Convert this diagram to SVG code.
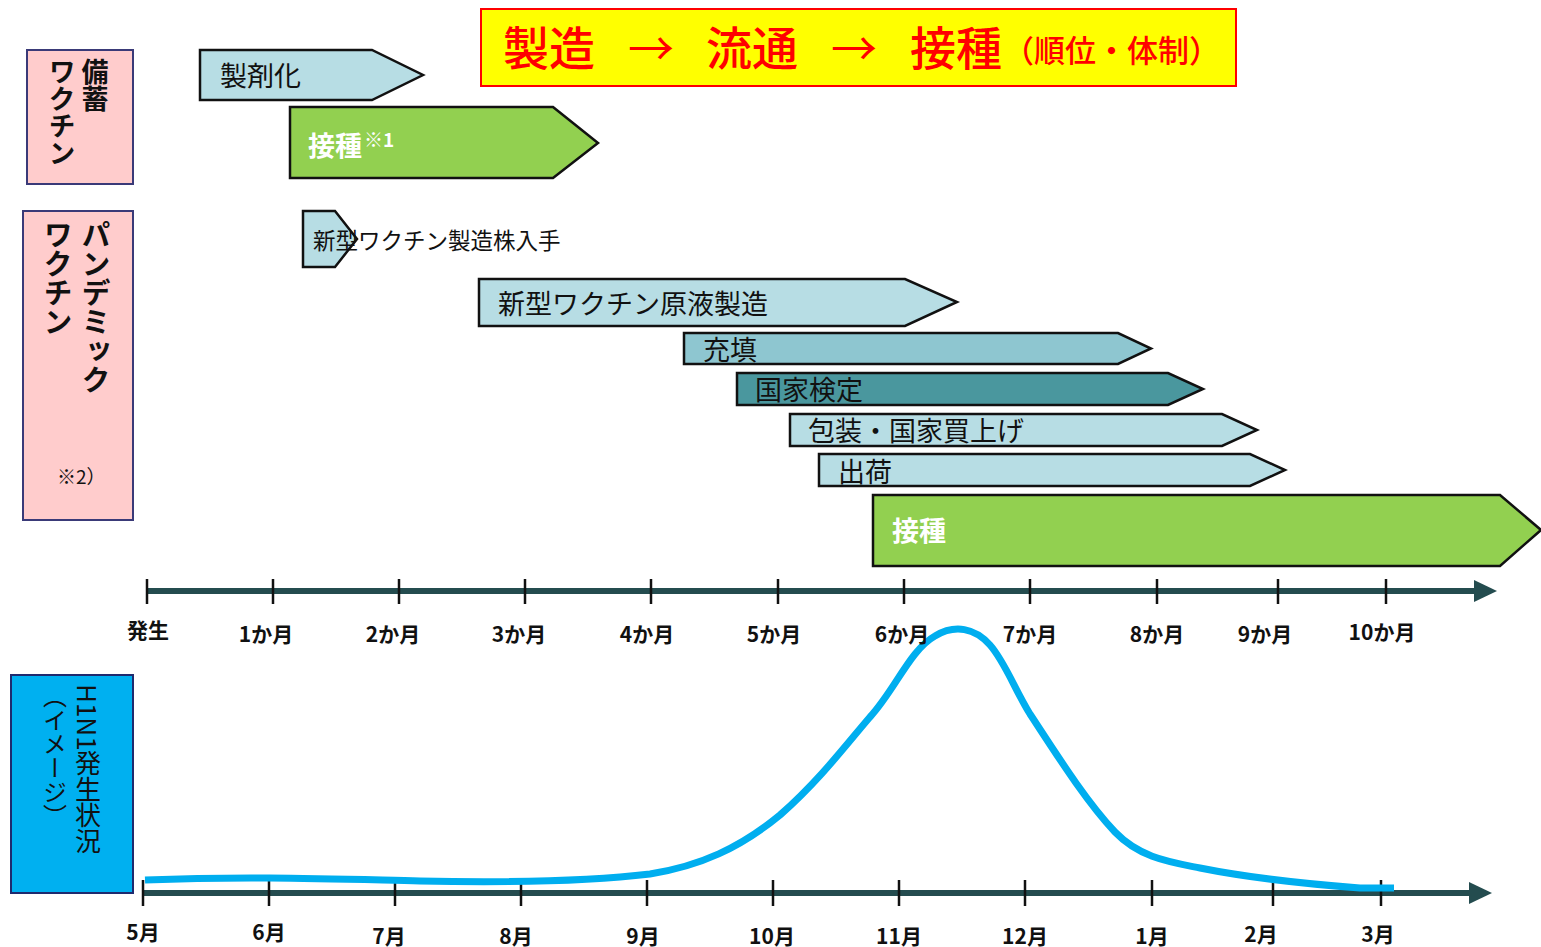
<svg xmlns="http://www.w3.org/2000/svg" width="1541" height="947" viewBox="0 0 1541 947">
<style>
.jp{font-family:"Noto Sans CJK JP","Noto Sans",sans-serif;}
.bar{stroke:#111;stroke-width:2.5;}
.lb{fill:#B7DDE4;}
.mb{fill:#8EC6D0;}
.db{fill:#4A979E;}
.gr{fill:#92D050;}
.bt{font-size:27px;fill:#111;}
.wt{font-size:27px;fill:#fff;font-weight:bold;}
.side{stroke:#3A3A78;stroke-width:2;}
.vt{writing-mode:vertical-rl;}
.ax{stroke:#244C4F;stroke-width:6;fill:none;}
.tk{stroke:#111;stroke-width:2.5;}
.al{font-size:21px;font-weight:bold;fill:#111;text-anchor:middle;}
</style>
<rect width="1541" height="947" fill="#fff"/>

<g id="title">
<rect x="481" y="9" width="755" height="77" fill="#FFFF00" stroke="#FF0000" stroke-width="2"/>
<text class="jp" x="503" y="65" font-size="46" fill="#FF0000" font-weight="500">製造</text>
<text class="jp" x="628" y="65" font-size="46" fill="#FF0000">→</text>
<text class="jp" x="706" y="65" font-size="46" fill="#FF0000" font-weight="500">流通</text>
<text class="jp" x="831" y="65" font-size="46" fill="#FF0000">→</text>
<text class="jp" x="910" y="65" font-size="46" fill="#FF0000" font-weight="500">接種</text>
<text class="jp" x="1003" y="62" font-size="31" fill="#FF0000" font-weight="500">（順位・体制）</text>
</g>

<g id="stock-label">
<rect class="side" x="27" y="50" width="106" height="134" fill="#FFCCCC"/>
<text class="jp vt" x="95" y="58" font-size="27" font-weight="bold" fill="#111">備蓄</text>
<text class="jp vt" x="62" y="58" font-size="27" font-weight="bold" fill="#111">ワクチン</text>
</g>

<g id="pandemic-label">
<rect class="side" x="23" y="211" width="110" height="309" fill="#FFCCCC"/>
<text class="jp vt" x="96" y="220" font-size="29" font-weight="bold" fill="#111">パンデミック</text>
<text class="jp vt" x="58" y="220" font-size="29" font-weight="bold" fill="#111">ワクチン</text>
<text class="jp" x="57" y="484" font-size="19" fill="#111">※2）</text>
</g>

<g id="h1n1-label">
<rect x="11" y="675" width="122" height="218" fill="#00B0F0" stroke="#1F2A6E" stroke-width="2"/>
<text class="jp vt" x="88" y="684" font-size="26" fill="#111">H1N1発生状況</text>
<text class="jp vt" x="55" y="684" font-size="24" fill="#111">（イメージ）</text>
</g>

<g id="bar-seizai">
<polygon class="bar lb" points="200,50 372,50 423,75 372,100 200,100"/>
<text class="jp bt" x="220" y="86">製剤化</text>
</g>
<g id="bar-stock-sesshu">
<polygon class="bar gr" points="290,107 553,107 598,143 553,178 290,178"/>
<text class="jp wt" x="308" y="156">接種<tspan font-size="19" dy="-9" dx="2">※1</tspan></text>
</g>
<g id="bar-strain">
<polygon class="bar lb" points="303,211 335,211 357,239 335,267 303,267"/>
<text class="jp" x="313" y="249" font-size="22.5" fill="#111">新型ワクチン製造株入手</text>
</g>
<g id="bar-genseki">
<polygon class="bar lb" points="479,279 905,279 957,302 905,326 479,326"/>
<text class="jp bt" x="498" y="314">新型ワクチン原液製造</text>
</g>
<g id="bar-juten">
<polygon class="bar mb" points="684,333 1118,333 1151,348.5 1118,364 684,364"/>
<text class="jp bt" x="703" y="360">充填</text>
</g>
<g id="bar-kentei">
<polygon class="bar db" points="737,373 1168,373 1203,389 1168,405 737,405"/>
<text class="jp bt" x="755" y="400">国家検定</text>
</g>
<g id="bar-housou">
<polygon class="bar lb" points="790,414 1222,414 1257,430 1222,446 790,446"/>
<text class="jp bt" x="808" y="441">包装・国家買上げ</text>
</g>
<g id="bar-shukka">
<polygon class="bar lb" points="819,454 1250,454 1285,470 1250,486 819,486"/>
<text class="jp bt" x="838" y="482">出荷</text>
</g>
<g id="bar-sesshu">
<polygon class="bar gr" points="873,495 1500,495 1541,530 1500,566 873,566"/>
<text class="jp wt" x="892" y="541">接種</text>
</g>

<g id="connectors">
<g id="axis-top">
<line class="ax" x1="147" y1="591" x2="1478" y2="591"/>
<polygon points="1474,580 1497,591 1474,602" fill="#244C4F"/>
<line class="tk" x1="147" y1="579" x2="147" y2="604"/>
<line class="tk" x1="273" y1="579" x2="273" y2="604"/>
<line class="tk" x1="399" y1="579" x2="399" y2="604"/>
<line class="tk" x1="525" y1="579" x2="525" y2="604"/>
<line class="tk" x1="651" y1="579" x2="651" y2="604"/>
<line class="tk" x1="778" y1="579" x2="778" y2="604"/>
<line class="tk" x1="904" y1="579" x2="904" y2="604"/>
<line class="tk" x1="1030" y1="579" x2="1030" y2="604"/>
<line class="tk" x1="1157" y1="579" x2="1157" y2="604"/>
<line class="tk" x1="1278" y1="579" x2="1278" y2="604"/>
<line class="tk" x1="1386" y1="579" x2="1386" y2="604"/>
</g>
<g id="axis-bottom">
<line class="ax" x1="143" y1="893" x2="1472" y2="893"/>
<polygon points="1469,882 1492,893 1469,904" fill="#244C4F"/>
<line class="tk" x1="143" y1="880" x2="143" y2="906"/>
<line class="tk" x1="269" y1="880" x2="269" y2="906"/>
<line class="tk" x1="395" y1="880" x2="395" y2="906"/>
<line class="tk" x1="521" y1="880" x2="521" y2="906"/>
<line class="tk" x1="647" y1="880" x2="647" y2="906"/>
<line class="tk" x1="773" y1="880" x2="773" y2="906"/>
<line class="tk" x1="899" y1="880" x2="899" y2="906"/>
<line class="tk" x1="1025" y1="880" x2="1025" y2="906"/>
<line class="tk" x1="1152" y1="880" x2="1152" y2="906"/>
<line class="tk" x1="1273" y1="880" x2="1273" y2="906"/>
<line class="tk" x1="1381" y1="880" x2="1381" y2="906"/>
</g>
<path id="curve" d="M145,880 C250,876 330,879 420,881 C520,883 600,880 650,874 C700,866 740,848 780,815 C820,780 850,740 870,717 C895,690 910,650 935,636 C955,624 975,628 990,645 C1005,662 1015,690 1030,714 C1055,752 1085,800 1115,832 C1140,858 1170,862 1200,868 C1250,878 1320,885 1360,888 L1394,888" fill="none" stroke="#00AEEF" stroke-width="7"/>
</g>

<g id="labels-top" class="jp">
<text class="al" x="148" y="638">発生</text>
<text class="al" x="266" y="642">1か月</text>
<text class="al" x="393" y="642">2か月</text>
<text class="al" x="519" y="642">3か月</text>
<text class="al" x="647" y="642">4か月</text>
<text class="al" x="774" y="642">5か月</text>
<text class="al" x="902" y="642">6か月</text>
<text class="al" x="1030" y="642">7か月</text>
<text class="al" x="1157" y="642">8か月</text>
<text class="al" x="1265" y="642">9か月</text>
<text class="al" x="1382" y="640">10か月</text>
</g>
<g id="labels-bottom" class="jp">
<text class="al" x="143" y="940">5月</text>
<text class="al" x="269" y="940">6月</text>
<text class="al" x="389" y="944">7月</text>
<text class="al" x="516" y="944">8月</text>
<text class="al" x="643" y="944">9月</text>
<text class="al" x="772" y="944">10月</text>
<text class="al" x="899" y="944">11月</text>
<text class="al" x="1025" y="944">12月</text>
<text class="al" x="1152" y="944">1月</text>
<text class="al" x="1261" y="942">2月</text>
<text class="al" x="1378" y="942">3月</text>
</g>
</svg>
